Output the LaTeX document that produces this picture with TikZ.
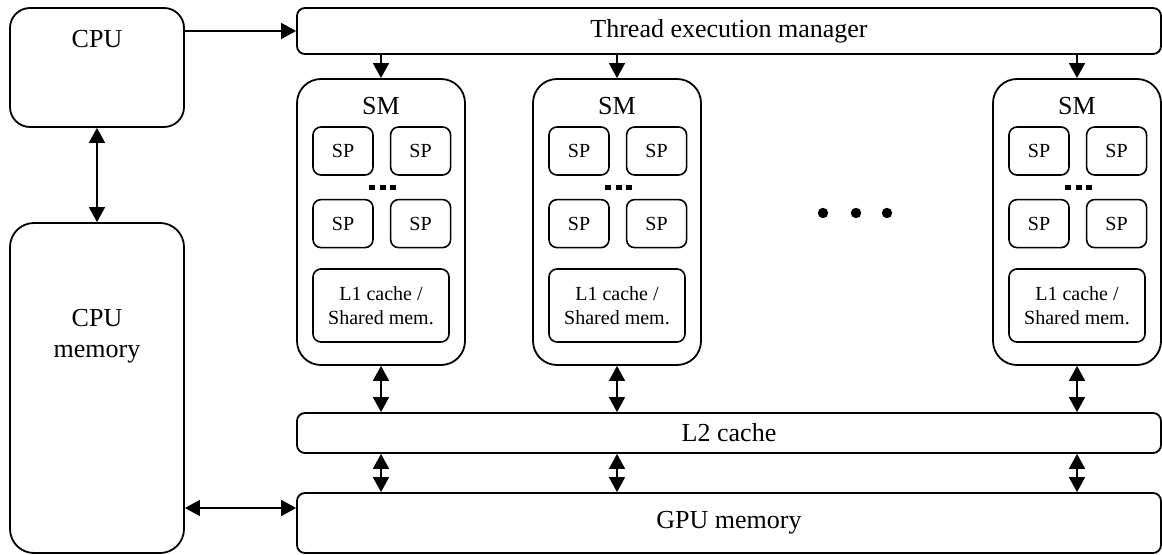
\documentclass[tikz,border=0pt]{standalone}
\usepackage{fontspec}
\setmainfont{Liberation Serif}
\usetikzlibrary{arrows.meta,positioning}

\begin{document}
\begin{tikzpicture}[
    x=0.5pt,y=-0.5pt,
    node distance=11.5pt and 8pt,
    every node/.style={align=center,inner sep=0pt},
    fonte/.style={font=\fontsize{13}{15.5}\selectfont},
    fontemenor/.style={font=\fontsize{10}{12}\selectfont},
    bloco/.style={draw,line width=0.9pt,fonte},
    host/.style={bloco,rounded corners=10pt,minimum width=87pt},
    barra/.style={bloco,rounded corners=4pt,minimum width=432pt},
    smbox/.style={bloco,rounded corners=12pt,minimum width=84pt,minimum height=143pt},
    spbox/.style={draw,line width=0.8pt,rounded corners=4pt,fontemenor,
      minimum width=30pt,minimum height=24pt},
    l1box/.style={spbox,minimum width=68pt,minimum height=36.5pt},
    ponta/.tip={Triangle[length=7.5pt,width=8pt]},
    seta/.style={-ponta,line width=0.8pt},
    duplo/.style={ponta-ponta,line width=0.8pt}
  ]
    \useasboundingbox (0,0) rectangle (1162,555);

    \node[host,minimum height=59.5pt,
      label={[fonte,anchor=center,yshift=-16pt]north:CPU}] (cpu) at (97,67.5) {};
    \node[host,rounded corners=12pt,minimum height=165pt,
      label={[fonte,anchor=center,yshift=-57pt]north:CPU\\memory}] (cpumem) at (97,388) {};

    \node[barra,minimum height=23pt] (tem) at (729,31) {Thread execution manager};
    \node[barra,minimum height=20pt] (l2) at (729,433) {L2 cache};
    \node[barra,minimum height=30pt] (gpumem) at (729,523) {GPU memory};

    \foreach \i/\cx in {1/381,2/617,3/1077} {
      \node[smbox,label={[fonte,anchor=center,yshift=-14pt]north:SM}] (sm\i) at (\cx,222) {};
      \node[spbox] (spa\i) at ([shift={(-38,-71)}]sm\i.center) {SP};
      \node[spbox,right=of spa\i] (spb\i) {SP};
      \node[spbox,below=of spa\i] (spc\i) {SP};
      \node[spbox,below=of spb\i] (spd\i) {SP};
      \node[l1box] (l1\i) at ([shift={(0,83.5)}]sm\i.center) {L1 cache /\\Shared mem.};
      \foreach \d in {-10.5,0,10.5}
        \fill ([shift={(\d-1.5,-36.5)}]sm\i.center) rectangle ++(6,5);
    }

    \foreach \x in {823,856,887}
      \fill (\x,213) circle (2.6pt);

    \coordinate (gpuin) at ([yshift=7.5pt]gpumem.west);
    \draw[seta] (cpu.east |- tem.west) -- (tem.west);
    \draw[duplo] (cpu.south) -- (cpumem.north);
    \draw[duplo] (cpumem.east |- gpuin) -- (gpuin);

    \foreach \i in {1,2,3} {
      \draw[seta] (tem.south -| sm\i.north) -- (sm\i.north);
      \draw[duplo] (sm\i.south) -- (l2.north -| sm\i.south);
      \draw[duplo] (l2.south -| sm\i.south) -- (gpumem.north -| sm\i.south);
    }
  \end{tikzpicture}
\end{document}
